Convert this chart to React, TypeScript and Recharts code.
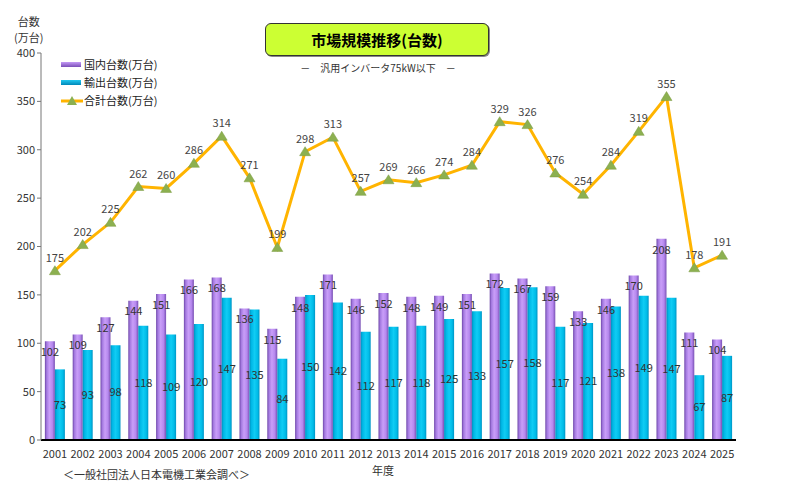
import React from 'react'
import {
    Bar,
    ComposedChart,
    LabelList,
    Line,
    XAxis,
    YAxis,
} from 'recharts'

const years = [
    '2001', '2002', '2003', '2004', '2005', '2006', '2007', '2008', '2009', '2010',
    '2011', '2012', '2013', '2014', '2015', '2016', '2017', '2018', '2019', '2020',
    '2021', '2022', '2023', '2024', '2025',
]
const domestic = [
    102, 109, 127, 144, 151, 166, 168, 136, 115, 148, 171, 146, 152, 148, 149, 151,
    172, 167, 159, 133, 146, 170, 208, 111, 104,
]
const exports = [
    73, 93, 98, 118, 109, 120, 147, 135, 84, 150, 142, 112, 117, 118, 125, 133, 157,
    158, 117, 121, 138, 149, 147, 67, 87,
]
const totals = [
    175, 202, 225, 262, 260, 286, 314, 271, 199, 298, 313, 257, 269, 266, 274, 284,
    329, 326, 276, 254, 284, 319, 355, 178, 191,
]
const yTicks = [0, 50, 100, 150, 200, 250, 300, 350, 400]

const FONT = '"Noto Sans CJK JP", "Noto Sans", sans-serif'
const LINE_COLOR = '#ffb400'
const TRI_COLOR = '#8cb050'

const chartData = years.map((year, i) => ({
    year,
    domestic: domestic[i],
    exports: exports[i],
    total: totals[i],
}))

// green triangle marker on the total line
function Triangle(props: any) {
    const { cx, cy } = props
    if (cx == null || cy == null) return null
    return (
        <polygon
            points={`${cx},${cy - 5} ${cx - 5.5},${cy + 4} ${cx + 5.5},${cy + 4}`}
            fill={TRI_COLOR}
            stroke="#7a9a40"
            strokeWidth={0.5}
        />
    )
}

function LegendBox() {
    const row: React.CSSProperties = {
        display: 'flex',
        alignItems: 'center',
        height: 18,
        fontSize: 11,
        color: '#222',
    }
    return (
        <div style={{ position: 'absolute', left: 61, top: 55, fontFamily: FONT }}>
            <div style={row}>
                <span
                    style={{
                        width: 20,
                        height: 5,
                        marginRight: 3,
                        background: 'linear-gradient(#c49af5, #7a4fb8)',
                    }}
                />
                国内台数(万台)
            </div>
            <div style={row}>
                <span
                    style={{
                        width: 20,
                        height: 5,
                        marginRight: 3,
                        background: 'linear-gradient(#22c8f0, #0088b8)',
                    }}
                />
                輸出台数(万台)
            </div>
            <div style={row}>
                <svg width={23} height={12} style={{ marginRight: 0 }}>
                    <line x1={0} y1={7} x2={22} y2={7} stroke={LINE_COLOR} strokeWidth={3} />
                    <polygon points="11,2 6,11 16,11" fill={TRI_COLOR} />
                </svg>
                合計台数(万台)
            </div>
        </div>
    )
}

export default function App() {
    return (
        <div
            style={{
                position: 'relative',
                width: 800,
                height: 488,
                background: '#fff',
                fontFamily: FONT,
                overflow: 'hidden',
            }}
        >
            <style>{'body{margin:0}'}</style>
            <ComposedChart
                width={800}
                height={488}
                data={chartData}
                margin={{ top: 53, right: 64, bottom: 28, left: 0 }}
                barCategoryGap="14%"
                barGap={0}
            >
                <defs>
                    <linearGradient id="gradDomestic" x1="0" y1="0" x2="1" y2="0">
                        <stop offset="0%" stopColor="#6e46a8" />
                        <stop offset="18%" stopColor="#a47ae0" />
                        <stop offset="45%" stopColor="#c99ef8" />
                        <stop offset="75%" stopColor="#b688ee" />
                        <stop offset="100%" stopColor="#7850b4" />
                    </linearGradient>
                    <linearGradient id="gradExports" x1="0" y1="0" x2="1" y2="0">
                        <stop offset="0%" stopColor="#0090c0" />
                        <stop offset="20%" stopColor="#00b8e6" />
                        <stop offset="50%" stopColor="#10ccf4" />
                        <stop offset="80%" stopColor="#00bce8" />
                        <stop offset="100%" stopColor="#0094c4" />
                    </linearGradient>
                </defs>
                <XAxis
                    dataKey="year"
                    height={20}
                    tickLine={false}
                    axisLine={{ stroke: '#000', strokeWidth: 2 }}
                    tick={{ fontSize: 11, fill: '#333', fontFamily: FONT }}
                    tickMargin={4}
                    interval={0}
                />
                <YAxis
                    width={41}
                    domain={[0, 400]}
                    ticks={yTicks}
                    axisLine={{ stroke: '#777' }}
                    tickLine={{ stroke: '#777' }}
                    tickSize={4}
                    tick={{ fontSize: 11, fill: '#333', fontFamily: FONT }}
                    tickMargin={2}
                />
                <Bar dataKey="domestic" fill="url(#gradDomestic)" isAnimationActive={false}>
                    <LabelList
                        dataKey="domestic"
                        position="insideTop"
                        offset={7}
                        style={{ fontSize: 11, fill: '#333', fontFamily: FONT }}
                    />
                </Bar>
                <Bar dataKey="exports" fill="url(#gradExports)" isAnimationActive={false}>
                    <LabelList
                        dataKey="exports"
                        position="center"
                        style={{ fontSize: 11, fill: '#333', fontFamily: FONT }}
                    />
                </Bar>
                <Line
                    type="linear"
                    dataKey="total"
                    stroke={LINE_COLOR}
                    strokeWidth={3}
                    dot={<Triangle />}
                    activeDot={false}
                    isAnimationActive={false}
                >
                    <LabelList
                        dataKey="total"
                        position="top"
                        offset={9}
                        style={{ fontSize: 11, fill: '#444', fontFamily: FONT }}
                    />
                </Line>
            </ComposedChart>

            {/* title box */}
            <div
                style={{
                    position: 'absolute',
                    left: 265,
                    top: 23,
                    width: 222,
                    height: 31,
                    background: '#ccff33',
                    border: '1px solid #333',
                    borderRadius: 6,
                    boxShadow: '1px 1px 0 #888',
                    display: 'flex',
                    alignItems: 'center',
                    justifyContent: 'center',
                    fontSize: 15,
                    fontWeight: 'bold',
                    color: '#000',
                }}
            >
                市場規模推移(台数)
            </div>
            <div
                style={{
                    position: 'absolute',
                    left: 278,
                    top: 60,
                    width: 200,
                    textAlign: 'center',
                    fontSize: 10,
                    color: '#333',
                    whiteSpace: 'pre',
                }}
            >
                {'－　汎用インバータ75kW以下　－'}
            </div>

            {/* y axis unit */}
            <div style={{ position: 'absolute', left: 14, top: 13, fontSize: 11, color: '#333', lineHeight: '16px', textAlign: 'center' }}>
                台数
                <br />
                (万台)
            </div>

            <LegendBox />

            <div style={{ position: 'absolute', left: 372, top: 462, fontSize: 11, color: '#333' }}>年度</div>
            <div style={{ position: 'absolute', left: 63, top: 466, fontSize: 11, color: '#333' }}>
                ＜一般社団法人日本電機工業会調べ＞
            </div>
        </div>
    )
}
